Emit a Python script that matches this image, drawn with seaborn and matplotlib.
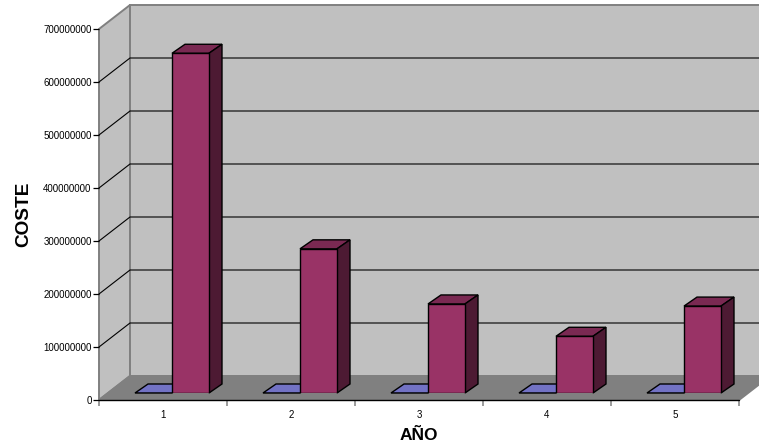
import numpy as np
import pandas as pd
import matplotlib
matplotlib.use('Agg')
import matplotlib.pyplot as plt
from matplotlib.patches import Polygon
import seaborn as sns

# values
anios = ['1', '2', '3', '4', '5']
coste_a = [0, 0, 0, 0, 0]
coste_b = [641000000, 272000000, 168000000, 107000000, 164000000]
y_ticks = [0, 100000000, 200000000, 300000000, 400000000, 500000000, 600000000, 700000000]

W, H = 759, 447
GREY = '#808080'
WALL = '#c0c0c0'
FLOOR = '#808080'
BLUE_TOP = '#7272c4'
FRONT = '#993366'
TOP = '#7a2952'
SIDE = '#4d1a33'

sns.set_style('white')
plt.rcParams['font.family'] = ['Liberation Sans', 'DejaVu Sans']
plt.rcParams['text.color'] = 'black'
plt.rcParams['axes.labelcolor'] = 'black'

df = pd.DataFrame({
    'anio': anios * 2,
    'serie': ['a'] * 5 + ['b'] * 5,
    'coste': coste_a + coste_b,
})


def px_axes(fig, left, base, width, height):
    # base = pixel row of the bottom edge, counted from the top
    return fig.add_axes([left / W, (H - base) / H, width / W, height / H])


fig = plt.figure(figsize=(W / 100, H / 100), dpi=100, facecolor='white')
ax = px_axes(fig, 99, 400, 640, 371)
ax.set_xlim(-0.5, 4.5)
ax.set_ylim(0, 700000000)
ax.patch.set_visible(False)
for s in ax.spines.values():
    s.set_visible(False)

# scale of one pixel in data units
ux = 5 / 640
uy = 700000000 / 371
dx, dy = 31 * ux, 24 * uy
x0, x1 = -0.5, 4.5
ymax = y_ticks[-1]

walls = [
    ([(x0, 0), (x0 + dx, dy), (x0 + dx, ymax + dy), (x0, ymax)], WALL),
    ([(x0 + dx, dy), (x1 + dx, dy), (x1 + dx, ymax + dy), (x0 + dx, ymax + dy)], WALL),
    ([(x0, 0), (x1, 0), (x1 + dx, dy), (x0 + dx, dy)], FLOOR),
]
for pts, col in walls:
    ax.add_patch(Polygon(pts, closed=True, facecolor=col, edgecolor=GREY, lw=1.4,
                         clip_on=False, zorder=0.5))

for v in y_ticks[1:-1]:
    ax.plot([x0, x0 + dx, x1 + dx], [v, v + dy, v + dy], color='black', lw=0.8,
            clip_on=False, zorder=0.7, solid_joinstyle='miter')
ax.plot([x0, x1], [0, 0], color='black', lw=1, clip_on=False, zorder=0.8)

ax.set_yticks(y_ticks)
ax.set_yticklabels([str(v) for v in y_ticks], fontsize=7)
ax.tick_params(axis='y', left=True, length=4.5, width=0.9, color='black', pad=0.8, labelcolor='black')
ax.set_xticks(np.arange(-0.5, 5, 1))
ax.set_xticklabels([])
ax.tick_params(axis='x', which='major', bottom=True, length=4.3, width=1.1, color=GREY)
ax.set_xticks(range(5), anios, minor=True, fontsize=7)
ax.tick_params(axis='x', which='minor', bottom=False, length=0, pad=7, labelcolor='black')
ax.set_xlabel('AÑO', fontsize=12.5, fontweight='bold', labelpad=6)
ax.set_ylabel('COSTE', fontsize=13.7, fontweight='bold', labelpad=8)

# bars stand a little inside the floor, so they get their own shifted axes
bx = px_axes(fig, 108, 393, 640, 371)
sns.barplot(data=df, x='anio', y='coste', hue='serie', order=anios, hue_order=['a', 'b'],
            palette={'a': BLUE_TOP, 'b': FRONT}, width=0.578, gap=0, dodge=True, legend=False,
            edgecolor='black', linewidth=1, saturation=1, ax=bx)
bx.set_xlim(-0.5, 4.5)
bx.set_ylim(0, 700000000)
bx.axis('off')

ox, oy = 13 * ux, 9 * uy
for cont, top_col in zip(bx.containers, [BLUE_TOP, TOP]):
    for bar in cont:
        l, r = bar.get_x(), bar.get_x() + bar.get_width()
        h = bar.get_height()
        bx.add_patch(Polygon([(l, h), (r, h), (r + ox, h + oy), (l + ox, h + oy)], closed=True,
                             facecolor=top_col, edgecolor='black', lw=1, zorder=0.5, clip_on=False))
        if h > 0:
            bx.add_patch(Polygon([(r, 0), (r + ox, oy), (r + ox, h + oy), (r, h)], closed=True,
                                 facecolor=SIDE, edgecolor='black', lw=1, zorder=0.5, clip_on=False))

fig.savefig('out.png', dpi=100, facecolor='white')
